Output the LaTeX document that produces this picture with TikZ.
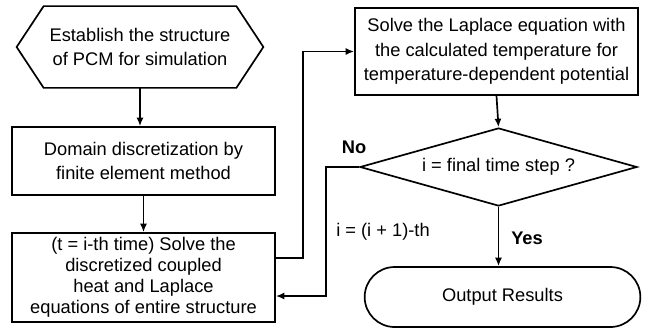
\documentclass[tikz,border=0pt]{standalone}
\usepackage{fontspec}
\setmainfont{Liberation Sans}
\usetikzlibrary{shapes,arrows,positioning,calc,arrows.meta}

\begin{document}
\begin{tikzpicture}[x=0.025cm,y=-0.025cm,line width=1.2pt,
    font=\fontsize{13}{17.6}\selectfont,
    procbox/.style={draw, rectangle, align=center, inner sep=0pt},
    flow/.style={-{Latex[length=6pt,width=5pt]}}]
    \useasboundingbox (0,0) rectangle (649,331);

    % Start (hexagon)
    \node[align=center, minimum width=6.125cm, minimum height=2cm, inner sep=0pt]
        (start) at (140,47) {Establish the structure\\of PCM for simulation};
    \draw (start.west) -- ([xshift=0.675cm]start.north west) -- ([xshift=-0.675cm]start.north east)
        -- (start.east) -- ([xshift=-0.675cm]start.south east) -- ([xshift=0.675cm]start.south west) -- cycle;

    % Left column
    \node[procbox, minimum width=6.575cm, minimum height=1.7cm] (mesh) at (143.5,161)
        {Domain discretization by\\finite element method};
    \node[procbox, minimum width=6.575cm, minimum height=2.225cm,
        font=\fontsize{13}{15}\selectfont] (solve) at (143.5,277.5)
        {(t = i-th time) Solve the\\discretized coupled\\heat and Laplace\\equations of entire structure};

    % Right column
    \node[procbox, minimum width=7.075cm, minimum height=2.175cm] (laplace) at (496.5,51.5)
        {Solve the Laplace equation with\\the calculated temperature for\\temperature-dependent potential};
    \node[draw, diamond, aspect=3.55, minimum width=6.925cm, minimum height=1.95cm,
        inner sep=0pt] (check) at (498.5,167) {i = final time step ?};
    \node[draw, rounded rectangle, minimum width=7.125cm, minimum height=1.5cm]
        (output) at (502.5,297) {Output Results};

    % Connections
    \draw[flow] (start.south) -- (start.south |- mesh.north);
    \draw[flow] (mesh.south) -- (mesh.south |- solve.north);
    \draw[flow] ([yshift=0.4875cm]solve.east) -- ++(27,0) |- (laplace.west);
    \draw[flow] (laplace.south) -- (check.north);
    \draw[flow] (check.west) -- ++(-33,0) |- ([yshift=-0.4625cm]solve.east);
    \draw[flow] (check.south) -- (check.south |- output.north);

    % Labels
    \node[font=\fontsize{13}{15}\selectfont\bfseries] (no) at (354,147) {No};
    \node[font=\fontsize{13}{15}\selectfont\bfseries] (yes) at (527,238) {Yes};
    \node (incr) at (383,232) {i = (i + 1)-th};
\end{tikzpicture}
\end{document}
